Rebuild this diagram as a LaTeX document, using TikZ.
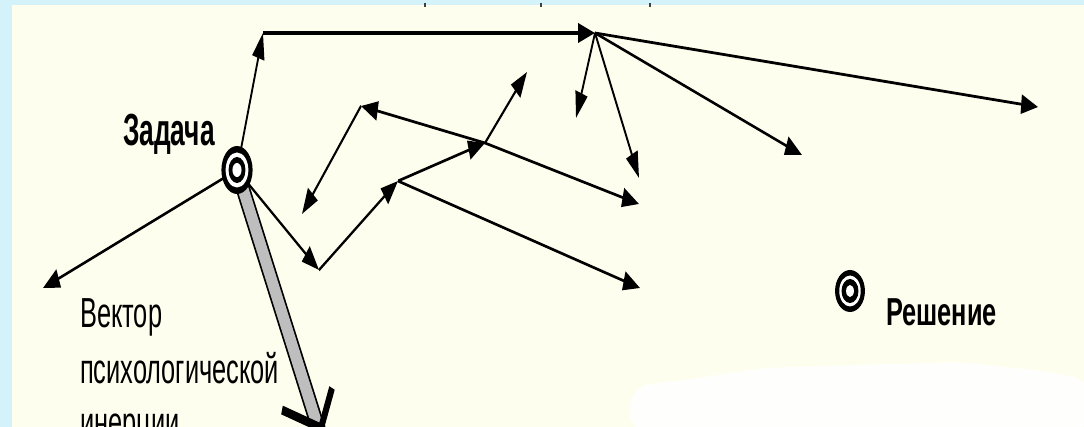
\documentclass[tikz,border=0pt]{standalone}
\usepackage{fontspec}
\setmainfont{Liberation Sans}
\usetikzlibrary{arrows.meta}
\definecolor{cream}{RGB}{254,254,238}
\definecolor{sky}{RGB}{212,242,250}
\definecolor{bargray}{RGB}{190,190,190}
\tikzset{
  vec/.style={line width=2.8pt, -{Triangle[length=26pt,width=19pt]}},
  topvec/.style={line width=3.6pt, -{Triangle[length=26pt,width=19pt]}},
  lbl/.style={inner sep=0pt, anchor=base west},
  tick/.style={line width=1.6pt, draw=black!75},
}
\begin{document}
\begin{tikzpicture}[x=1pt,y=-1pt]
\useasboundingbox (0,0) rectangle (1084,427);
\clip (0,0) rectangle (1084,427);
% background
\fill[sky] (0,0) rectangle (1084,427);
\fill[cream] (12,5) rectangle (1084,427);
\fill[white, opacity=0.85, rounded corners=18pt] (628,430) -- (632,386) -- (700,378) -- (760,368) -- (960,362) -- (1050,372) -- (1090,380) -- (1090,430) -- cycle;
\draw[tick] (425,3) -- (425,7);
\draw[tick] (541,3) -- (541,7);
\draw[tick] (650,3) -- (650,7);
\begin{scope}[transform canvas={xscale=0.65}, x=1.53846pt]
  % points
  \coordinate (O) at (237,170);
  \coordinate (T) at (263,33);
  \coordinate (H) at (595,33);
  \coordinate (h1) at (576,118);
  \coordinate (h2) at (639,178);
  \coordinate (h3) at (802,155);
  \coordinate (h4) at (1038,107);
  \coordinate (L) at (43,288);
  \coordinate (C1) at (319,270);
  \coordinate (A) at (398,181);
  \coordinate (B) at (485,143);
  \coordinate (D) at (527,72);
  \coordinate (E) at (361,106);
  \coordinate (F) at (302,214);
  \coordinate (G) at (639,204);
  \coordinate (K) at (640,288);
  \coordinate (R) at (850,291);
  \coordinate (barend) at (322,440);
  \coordinate (vl) at (282,410);
  \coordinate (vr) at (332,388);
  \coordinate (vt) at (321,428);
  % inertia bar
  \draw[line width=21pt, black] (O) -- (barend);
  \draw[line width=16pt, bargray] (O) -- (barend);
  \draw[line width=9pt, black] (vl) -- (vt) -- (vr);
  % connectors
  \draw[vec] (O) -- (T);
  \draw[topvec] (T) -- (H);
  \draw[vec] (H) -- (h1);
  \draw[vec] (H) -- (h2);
  \draw[vec] (H) -- (h3);
  \draw[vec] (H) -- (h4);
  \draw[vec] (O) -- (L);
  \draw[vec] (O) -- (C1);
  \draw[vec] (C1) -- (A);
  \draw[vec] (A) -- (B);
  \draw[vec] (B) -- (D);
  \draw[vec] (B) -- (E);
  \draw[vec] (E) -- (F);
  \draw[vec] (B) -- (G);
  \draw[vec] (A) -- (K);
  % Zadacha target
  \fill[black] (O) circle[radius=24pt];
  \fill[white] (O) circle[radius=17.5pt];
  \fill[black] (O) circle[radius=13pt];
  \fill[white] (O) circle[radius=7pt];
  % Reshenie target
  \fill[black] (R) ellipse[x radius=23pt, y radius=21pt];
  \fill[white] (R) ellipse[x radius=16.5pt, y radius=15.5pt];
  \fill[black] (R) ellipse[x radius=13pt, y radius=12pt];
  \fill[white] (R) ellipse[x radius=6pt, y radius=6pt];
  % labels
  \node[lbl, font=\fontsize{45}{50}\selectfont\bfseries] (zad) at (123,146) {\scalebox{0.9}[1]{Задача}};
  \node[lbl, font=\fontsize{39}{44}\selectfont\bfseries] (res) at (886,326) {Решение};
  \node[lbl, font=\fontsize{42}{45}\selectfont] (v1) at (80,328) {\scalebox{0.93}[1]{Вектор}};
  \node[lbl, font=\fontsize{42}{45}\selectfont] (v2) at (80,384) {\scalebox{0.93}[1]{психологической}};
  \node[lbl, font=\fontsize{42}{45}\selectfont] (v3) at (80,436) {\scalebox{0.93}[1]{инерции}};
\end{scope}
\end{tikzpicture}
\end{document}
